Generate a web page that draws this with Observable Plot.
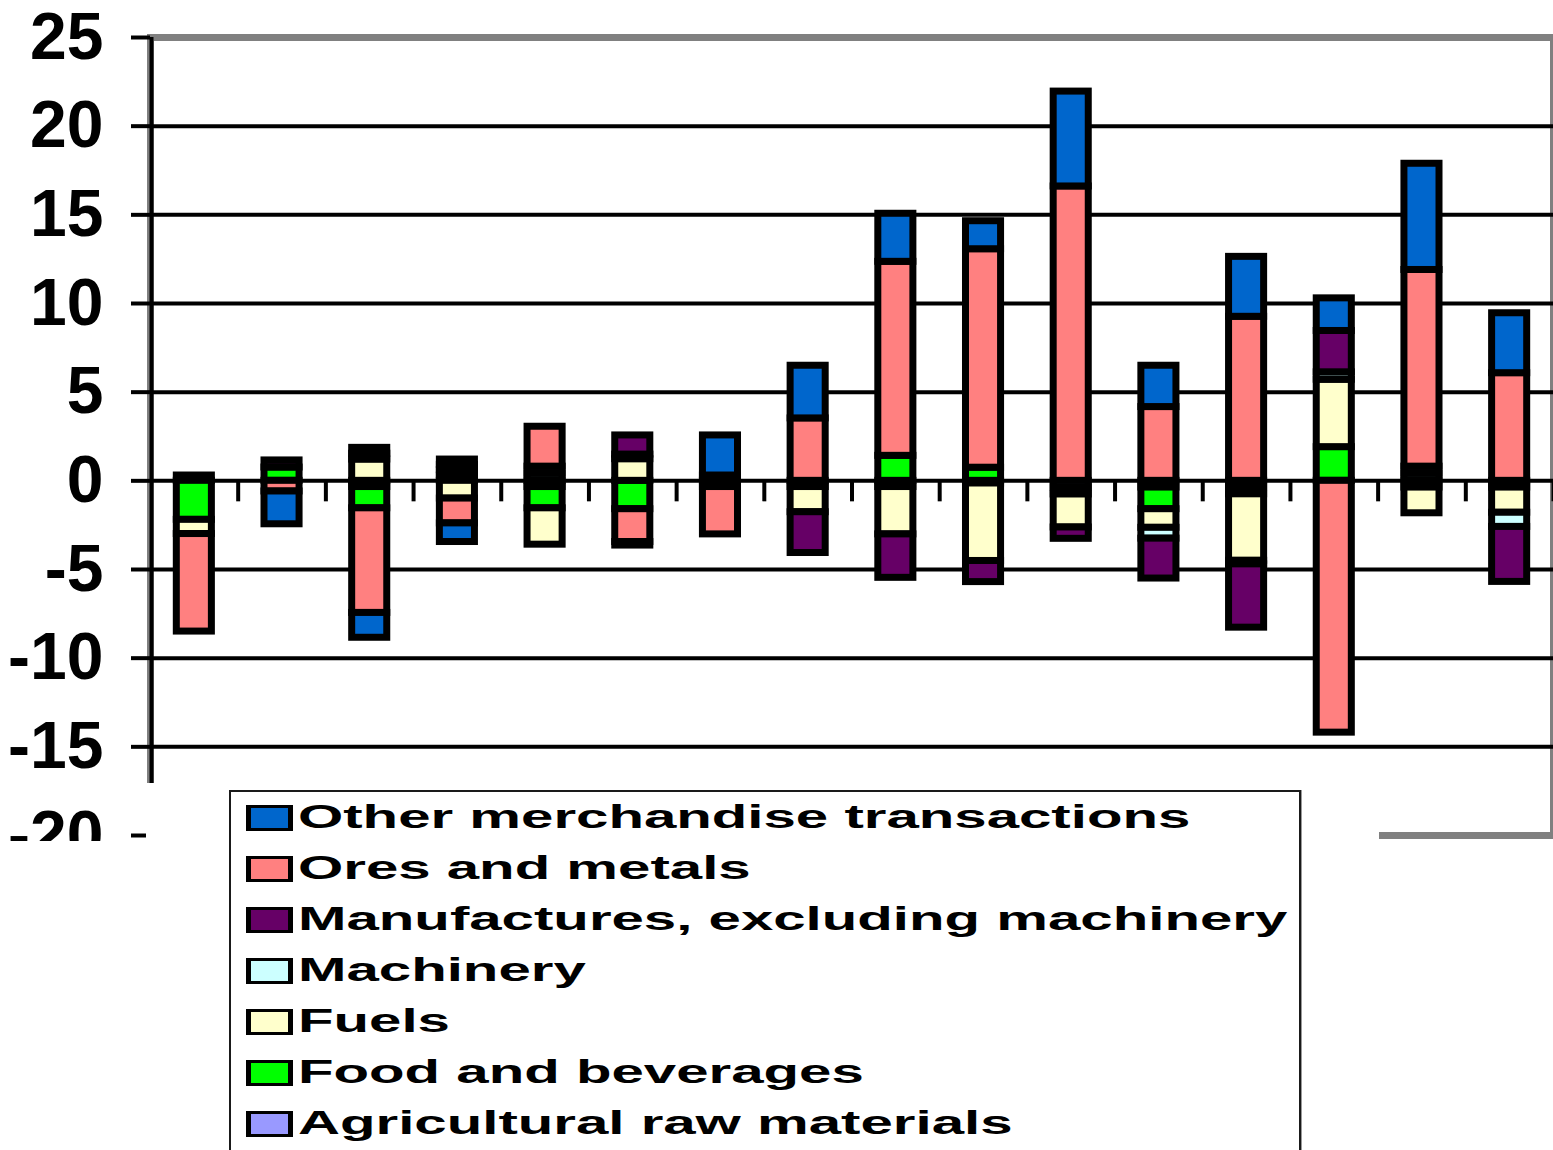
<!DOCTYPE html>
<html>
<head>
<meta charset="utf-8">
<script src="https://cdn.jsdelivr.net/npm/d3@7"></script>
<script src="https://cdn.jsdelivr.net/npm/@observablehq/plot@0.6"></script>
<style>
  html, body { margin: 0; padding: 0; background: white; overflow: hidden; }
  #chart { position: relative; width: 1553px; height: 1150px; background: white; }
  #plot-area { position: absolute; left: 0; top: 0; width: 1553px; height: 841px; overflow: hidden; }
  #legend-cover { position: absolute; left: 146px; top: 783px; width: 1233px; height: 367px; background: white; }
  #legend { position: absolute; left: 83px; top: 7px; width: 1068px; height: 420px;
            border: 2px solid #1a1a1a; border-bottom: none; box-shadow: 1px 0 0 #9a9a9a; background: white; }
  .row { height: 51px; display: flex; align-items: center; }
  .swatch { width: 47px; height: 26px; box-sizing: border-box; border-style: solid; border-color: #000;
            border-width: 3px 5px; margin-left: 15px; flex: none; }
  .label { margin-left: 5px; font: bold 32.5px "Liberation Sans", Arial, sans-serif; color: #000;
           transform: scaleX(1.79); transform-origin: left center; white-space: nowrap; }
</style>
</head>
<body>
<div id="chart">
  <div id="plot-area"></div>
  <div id="legend-cover"><div id="legend"></div></div>
</div>
<script>
// Sixteen consecutive periods (unlabelled on the x axis)
const periods = ["1", "2", "3", "4", "5", "6", "7", "8", "9", "10", "11", "12", "13", "14", "15", "16"];

// Stack order, bottom to top
const seriesNames = [
  "Agricultural raw materials",
  "Food and beverages",
  "Fuels",
  "Machinery",
  "Manufactures, excluding machinery",
  "Ores and metals",
  "Other merchandise transactions"
];
const seriesColors = ["#9999FF", "#00FF00", "#FFFFCC", "#CCFFFF", "#660066", "#FF8080", "#0066CC"];

// Contributions per period, one array per product group
const agricultural = [0.3, 0, -0.35, 0.3, -0.35, 0, -0.35, -0.35, -0.35, -0.15, -0.4, -0.38, -0.38, 0, -0.38, -0.38];
const food         = [-2.2, 0.75, -1.2, 0.3, -1.2, -1.6, 0, 0, 1.41, 0.74, -0.37, -1.22, -0.38, 1.9, 0, 0];
const fuels        = [-0.8, 0, 1.2, -1.0, -2.05, 1.22, 0, -1.42, -2.67, -4.37, -1.86, -1.05, -3.75, 3.8, -1.45, -1.42];
const machinery    = [0, 0, 0.33, 0.3, 0.4, 0.26, 0, 0, 0, 0, 0, -0.61, -0.2, 0.42, 0.4, -0.8];
const manufactures = [0, 0.4, 0.33, 0.3, 0.4, 1.08, 0.3, -2.3, -2.45, -1.19, -0.64, -2.25, -3.57, 2.33, 0.4, -3.1];
const ores         = [-5.5, -0.6, -5.9, -1.4, 2.25, -1.85, -2.67, 3.52, 10.94, 12.32, 16.6, 4.16, 9.25, -14.2, 11.09, 6.07];
const other        = [0, -1.85, -1.4, -1.05, 0, -0.2, 2.26, 2.97, 2.71, 1.58, 5.35, 2.33, 3.38, 1.84, 5.99, 3.38];

const seriesValues = [agricultural, food, fuels, machinery, manufactures, ores, other];

const yTicks = [-20, -15, -10, -5, 0, 5, 10, 15, 20, 25];
const gridValues = [-15, -10, -5, 0, 5, 10, 15, 20];

// Long table for stacking; empty segments are left out so they draw no outline
const rows = [];
seriesNames.forEach((name, s) => {
  seriesValues[s].forEach((v, i) => {
    if (v !== 0) rows.push({period: periods[i], series: name, value: v});
  });
});

const W = 1553, H = 841, mL = 150, mR = 0, mT = 37, mB = 6;
const step = (W - mL - mR) / periods.length;
const font = '"Liberation Sans", Arial, sans-serif';

const chart = Plot.plot({
  width: W,
  height: H,
  marginLeft: mL,
  marginRight: mR,
  marginTop: mT,
  marginBottom: mB,
  style: {fontFamily: font, background: "white", color: "black", overflow: "hidden"},
  x: {domain: periods, paddingInner: 0.6, paddingOuter: 0.3, round: false, axis: null},
  y: {domain: [-20, 25], axis: null},
  color: {domain: seriesNames, range: seriesColors},
  marks: [
    Plot.frame({stroke: "#808080", strokeWidth: 7}),
    Plot.gridY({ticks: gridValues, stroke: "black", strokeOpacity: 1, strokeWidth: 4}),
    // short category separators hanging below the zero line
    Plot.ruleX(periods, {x: (d) => d, dx: step / 2, y1: 0, y2: 0, insetBottom: -21, stroke: "black", strokeWidth: 4}),
    Plot.barY(rows, {x: "period", y: "value", fill: "series", stroke: "black", strokeWidth: 7}),
    // value axis line
    Plot.ruleX([periods[0]], {x: (d) => d, dx: -step / 2 + 1, y1: -20, y2: 25, stroke: "black", strokeWidth: 4}),
    Plot.axisY({
      ticks: yTicks,
      tickSize: 19,
      tickPadding: 28,
      stroke: "black",
      strokeWidth: 4,
      fill: "black",
      fontSize: 66,
      fontWeight: "bold",
      tickFormat: (d) => String(d),
      label: null
    })
  ]
});
document.getElementById("plot-area").appendChild(chart);

// Legend, listed top of stack first
const legend = d3.select("#legend");
seriesNames.slice().reverse().forEach((name) => {
  const row = legend.append("div").attr("class", "row");
  row.append("div").attr("class", "swatch")
    .style("background", seriesColors[seriesNames.indexOf(name)]);
  row.append("span").attr("class", "label").text(name);
});
</script>
</body>
</html>
